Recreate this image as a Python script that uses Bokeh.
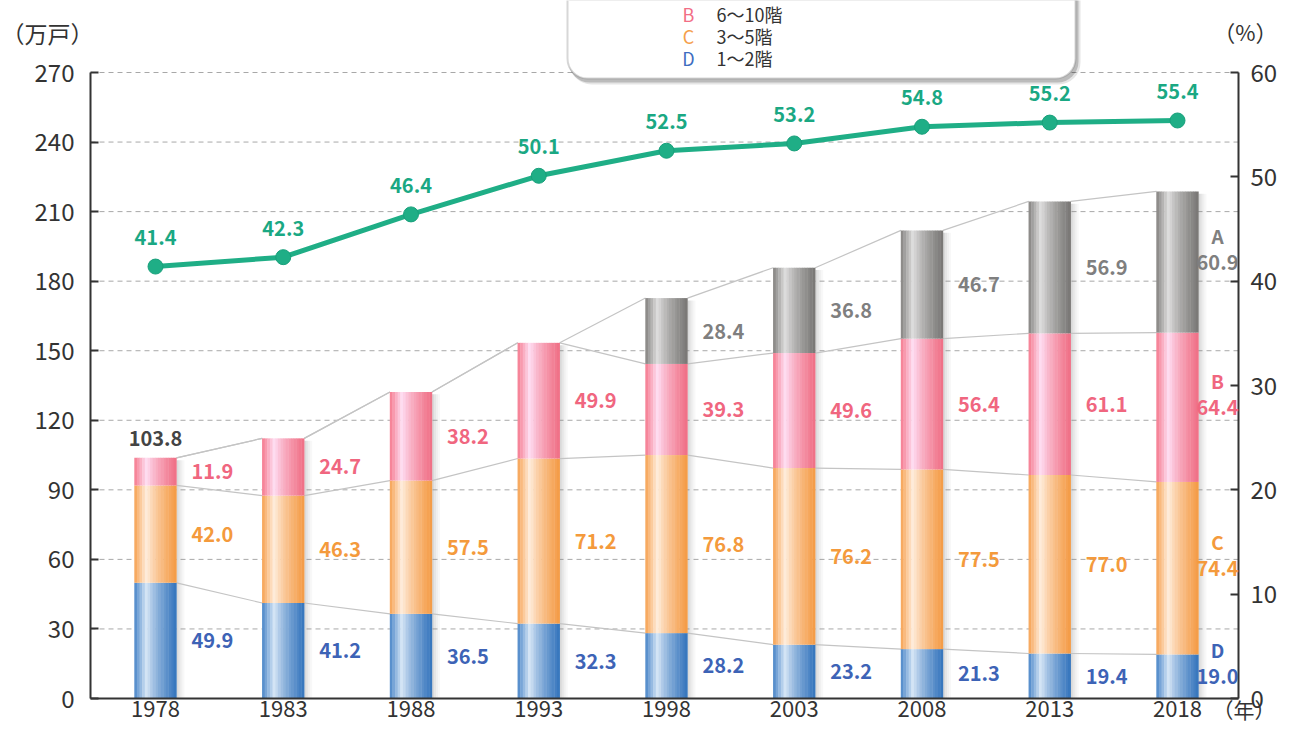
from bokeh.plotting import figure
from bokeh.models import (ColumnDataSource, LinearAxis, Range1d, FixedTicker,
                          LabelSet, Label, BoxAnnotation)
from bokeh.embed import file_html
from bokeh.resources import INLINE
from bokeh.core.properties import value

# ---------------- data ----------------
years = ["1978", "1983", "1988", "1993", "1998", "2003", "2008", "2013", "2018"]
d_vals = [49.9, 41.2, 36.5, 32.3, 28.2, 23.2, 21.3, 19.4, 19.0]   # 1~2階
c_vals = [42.0, 46.3, 57.5, 71.2, 76.8, 76.2, 77.5, 77.0, 74.4]   # 3~5階
b_vals = [11.9, 24.7, 38.2, 49.9, 39.3, 49.6, 56.4, 61.1, 64.4]   # 6~10階
a_vals = [0.0, 0.0, 0.0, 0.0, 28.4, 36.8, 46.7, 56.9, 60.9]       # 11階以上
pct_vals = [41.4, 42.3, 46.4, 50.1, 52.5, 53.2, 54.8, 55.2, 55.4]  # (%)
left_ticks = [0, 30, 60, 90, 120, 150, 180, 210, 240, 270]
right_ticks = [0, 10, 20, 30, 40, 50, 60]
legend_letters = ["B", "C", "D"]
legend_names = ["6～10階", "3～5階", "1～2階"]

# ---------------- layout constants ----------------
FONT = "Noto Sans CJK JP"
WIDTH, HEIGHT = 1279, 724
SX = 127.75                 # px per x unit
SY = 626.0 / 270.0          # px per left-axis unit
SP = 626.0 / 60.0           # px per right-axis unit
X0PX, Y0PX = 155.0, 698.0   # pixel position of (x=0, y=0)
XL, XR = (90 - X0PX) / SX, (1238 - X0PX) / SX   # plot area left / right in data
W = 42.0 / SX               # bar width
PX = 1.0 / SX

def xd(px):
    return (px - X0PX) / SX

def yd(py):
    return (Y0PX - py) / SY

series = [
    ("D", d_vals, ((74, 134, 200), (220, 234, 248), (52, 116, 188)), "#3d63b6"),
    ("C", c_vals, ((246, 162, 82), (255, 240, 226), (244, 154, 68)), "#f49a3c"),
    ("B", b_vals, ((245, 122, 142), (255, 226, 246), (240, 110, 132)), "#f0667f"),
    ("A", a_vals, ((132, 130, 128), (226, 226, 226), (120, 118, 116)), "#7f7f7f"),
]

def grad(stops, t):
    e, h, d = stops
    if t < 0.3:
        f = t / 0.3
        a, b = e, h
    else:
        f = ((t - 0.3) / 0.7) ** 0.7
        a, b = h, d
    r, g, bl = (int(round(a[k] + (b[k] - a[k]) * f)) for k in range(3))
    return "#%02x%02x%02x" % (r, g, bl)

p = figure(width=WIDTH, height=HEIGHT, output_backend="svg", toolbar_location=None,
           x_range=Range1d(xd(0), xd(WIDTH)), y_range=Range1d(yd(HEIGHT), yd(0)),
           x_axis_location=None, y_axis_location=None,
           min_border=0, min_border_left=0, min_border_right=0,
           min_border_top=0, min_border_bottom=0)
p.extra_y_ranges = {"pct": Range1d((Y0PX - HEIGHT) / SP, Y0PX / SP)}
p.outline_line_color = None
p.background_fill_color = "white"
p.border_fill_color = "white"
p.xgrid.grid_line_color = None
p.ygrid.grid_line_color = None

AX = "#333333"

# left axis
la = LinearAxis(fixed_location=XL, bounds=(0, 270), ticker=FixedTicker(ticks=left_ticks))
la.major_tick_in = 8
la.major_tick_out = 0
la.minor_tick_line_color = None
la.axis_line_color = AX
la.axis_line_width = 2
la.major_tick_line_color = AX
la.major_tick_line_width = 2
la.major_label_text_font = FONT
la.major_label_text_font_size = "24px"
la.major_label_text_color = AX
la.major_label_standoff = 16
p.add_layout(la, "left")

# right axis (%)
ra = LinearAxis(y_range_name="pct", fixed_location=XR, bounds=(0, 60),
                ticker=FixedTicker(ticks=right_ticks))
ra.major_tick_in = 8
ra.major_tick_out = 0
ra.minor_tick_line_color = None
ra.axis_line_color = AX
ra.axis_line_width = 2
ra.major_tick_line_color = AX
ra.major_tick_line_width = 2
ra.major_label_text_font = FONT
ra.major_label_text_font_size = "24px"
ra.major_label_text_color = AX
ra.major_label_standoff = 12
p.add_layout(ra, "right")

# bottom axis (line only; year labels drawn just below it)
ba = LinearAxis(fixed_location=0, bounds=(XL, XR), ticker=FixedTicker(ticks=[]))
ba.major_tick_line_color = None
ba.minor_tick_line_color = None
ba.axis_line_color = AX
ba.axis_line_width = 2
p.add_layout(ba, "below")

n = len(years)
ysrc = ColumnDataSource(dict(x=list(range(n)), y=[yd(708)] * n, text=years))
p.add_layout(LabelSet(x="x", y="y", text="text", source=ysrc, text_align="center",
                      text_baseline="middle", text_color=AX, text_font=value(FONT),
                      text_font_size="22px"))

# dashed horizontal grid lines
gt = left_ticks[1:]
p.segment(x0=[XL] * len(gt), y0=gt, x1=[XR] * len(gt), y1=gt,
          line_color="#a8a8a8", line_dash="5 4", line_width=1)

cums = []
run = [0.0] * n
for name, vals, stops, col in series:
    bottoms = run[:]
    run = [run[i] + vals[i] for i in range(n)]
    cums.append((bottoms, run[:]))
totals = run[:]

# bar shadows
shadow_alphas = [0.30, 0.20, 0.12, 0.06]
for k, a in enumerate(shadow_alphas):
    xs = [i + W / 2 + (k * 2 + 1) * PX for i in range(n)]
    p.vbar(x=xs, width=2 * PX, bottom=[0] * n, top=[t - 1 for t in totals],
           fill_color="#808080", fill_alpha=a, line_color=None)

# connector lines
for s in range(len(series)):
    tops = cums[s][1]
    p.segment(x0=[i + W / 2 for i in range(n - 1)], y0=tops[:-1],
              x1=[i + 1 - W / 2 for i in range(n - 1)], y1=tops[1:],
              line_color="#c4c4c4", line_width=1.2)

# gradient bars (vertical strips)
NS = 16
sx, sb, st, sc = [], [], [], []
for s, (name, vals, stops, col) in enumerate(series):
    bottoms, tops = cums[s]
    for i in range(n):
        if vals[i] <= 0:
            continue
        for j in range(NS):
            t = (j + 0.5) / NS
            sx.append(i - W / 2 + t * W)
            sb.append(bottoms[i])
            st.append(tops[i])
            sc.append(grad(stops, t))
strips = ColumnDataSource(dict(x=sx, bottom=sb, top=st, color=sc))
p.vbar(x="x", width=W / NS * 1.15, bottom="bottom", top="top",
       fill_color="color", line_color=None, source=strips)

# value labels
for s, (name, vals, stops, col) in enumerate(series):
    bottoms, tops = cums[s]
    lx, ly, lt = [], [], []
    for i in range(n):
        if vals[i] <= 0:
            continue
        lx.append(i + (0.313 if i == n - 1 else 0.445))
        ly.append((bottoms[i] + tops[i]) / 2)
        lt.append("%.1f" % vals[i])
    src = ColumnDataSource(dict(x=lx, y=ly, text=lt))
    p.add_layout(LabelSet(x="x", y="y", text="text", source=src,
                          text_align="center", text_baseline="middle",
                          text_color=col, text_font=value(FONT),
                          text_font_style="bold", text_font_size="20px"))
    p.add_layout(Label(x=n - 1 + 0.313, y=(bottoms[-1] + tops[-1]) / 2, y_offset=27,
                       text=name, text_align="center", text_baseline="middle",
                       text_color=col, text_font=FONT, text_font_style="bold",
                       text_font_size="19px"))

p.add_layout(Label(x=0, y=totals[0], y_offset=19, text="%.1f" % totals[0],
                   text_align="center", text_baseline="middle",
                   text_color="#444444", text_font=FONT, text_font_style="bold",
                   text_font_size="20px"))

# percentage line
xi = list(range(n))
p.line(x=xi, y=pct_vals, y_range_name="pct", line_color="#1fae86", line_width=5)
p.scatter(x=xi, y=pct_vals, y_range_name="pct", size=15,
          fill_color="#1fae86", line_color="#18a07b", line_width=1)
psrc = ColumnDataSource(dict(x=xi, y=pct_vals, text=["%.1f" % v for v in pct_vals]))
p.add_layout(LabelSet(x="x", y="y", text="text", source=psrc, y_range_name="pct",
                      y_offset=29, text_align="center", text_baseline="middle",
                      text_color="#1aa883", text_font=value(FONT),
                      text_font_style="bold", text_font_size="20px"))

# unit labels
p.add_layout(Label(x=xd(1), y=yd(32), text="（万戸）", text_align="left",
                   text_baseline="middle", text_color=AX, text_font=FONT,
                   text_font_size="23px"))
p.add_layout(Label(x=xd(1277), y=yd(30), text="（%）", text_align="right",
                   text_baseline="middle", text_color=AX, text_font=FONT,
                   text_font_size="22px"))
p.add_layout(Label(x=xd(1212), y=yd(708), text="（年）", text_align="left",
                   text_baseline="middle", text_color=AX, text_font=FONT,
                   text_font_size="21px"))

# legend box (its top is above the picture)
bl, br, bb, bt = xd(567), xd(1075), yd(78), yd(-40)
p.add_layout(BoxAnnotation(left=bl + 2 * PX, right=br + 5 * PX, bottom=yd(84), top=bt,
                           fill_color="#000000", fill_alpha=0.10,
                           line_color=None, border_radius=22))
p.add_layout(BoxAnnotation(left=bl + 1 * PX, right=br + 3 * PX, bottom=yd(82), top=bt,
                           fill_color="#000000", fill_alpha=0.18,
                           line_color=None, border_radius=21))
p.add_layout(BoxAnnotation(left=bl, right=br, bottom=bb, top=bt, fill_color="white",
                           fill_alpha=1.0, line_color="#7a7a7a", line_width=2,
                           border_radius=20))
leg_colors = ["#f26e86", "#f5a04a", "#3e6cc0"]
leg_y = [13, 35, 57]
for k in range(3):
    p.add_layout(Label(x=xd(688), y=yd(leg_y[k]), text=legend_letters[k],
                       text_align="center", text_baseline="middle",
                       text_color=leg_colors[k], text_font=FONT,
                       text_font_size="18px"))
    p.add_layout(Label(x=xd(716), y=yd(leg_y[k]), text=legend_names[k],
                       text_align="left", text_baseline="middle",
                       text_color=AX, text_font=FONT, text_font_size="18px"))

open("out.html", "w").write(file_html(p, INLINE))
